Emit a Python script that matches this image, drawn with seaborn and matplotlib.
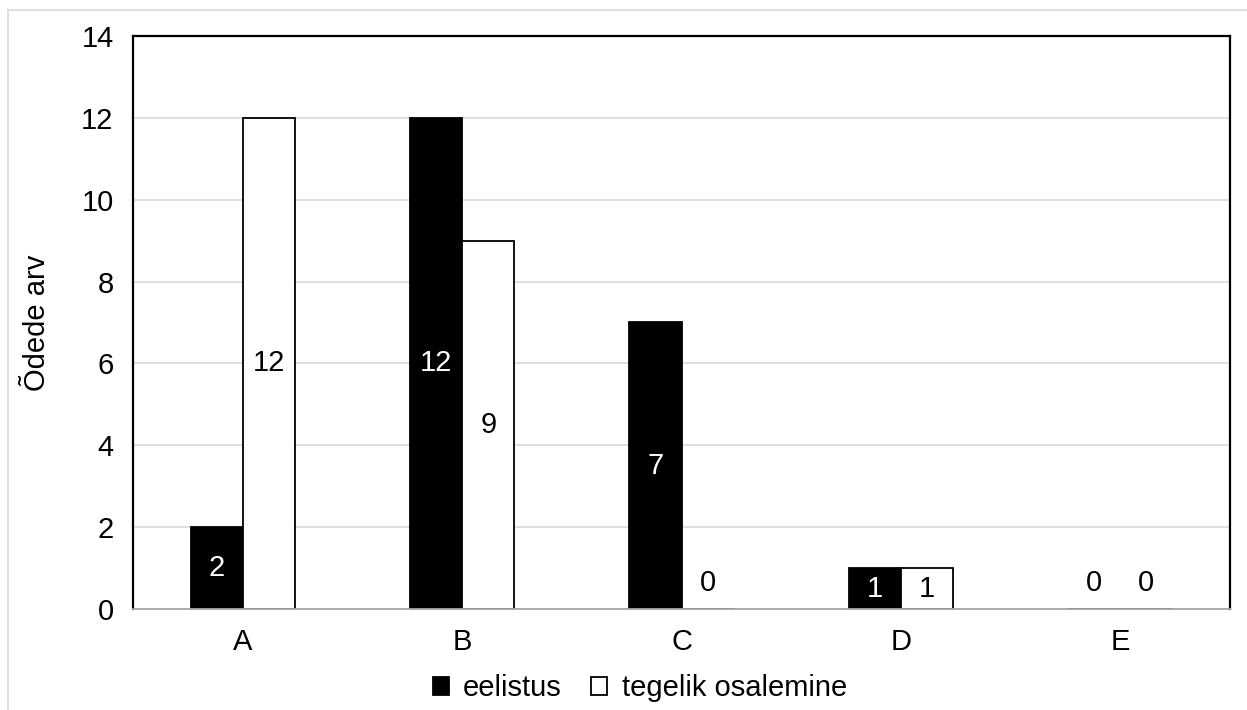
import pandas as pd
import matplotlib.pyplot as plt
import seaborn as sns
from matplotlib.lines import Line2D

# Data
categories = ['A', 'B', 'C', 'D', 'E']
eelistus = [2, 12, 7, 1, 0]
tegelik = [12, 9, 0, 1, 0]
series_names = ['eelistus', 'tegelik osalemine']

df = pd.DataFrame({
    'kategooria': categories * 2,
    'arv': eelistus + tegelik,
    'seeria': [series_names[0]] * 5 + [series_names[1]] * 5,
})

sns.set_style('white')
plt.rcParams['font.family'] = ['Liberation Sans', 'DejaVu Sans']
plt.rcParams['text.color'] = 'black'
FS = 21

fig = plt.figure(figsize=(12.47, 7.10), dpi=100)
ax = fig.add_axes([0.1067, 0.1423, 0.8797, 0.807])

sns.barplot(data=df, x='kategooria', y='arv', hue='seeria',
            palette=['black', 'white'], edgecolor='black', linewidth=1.3,
            width=0.475, gap=0, ax=ax)

ax.set_ylim(0, 14)
ax.set_yticks(range(0, 15, 2))
ax.yaxis.grid(True, color='#d9d9d9', linewidth=1.2)
ax.set_axisbelow(True)
ax.tick_params(axis='both', length=0, labelsize=FS, labelcolor='black')
ax.tick_params(axis='x', pad=14)
ax.tick_params(axis='y', pad=14)
ax.set_xlabel('')
ax.set_ylabel('Õdede arv', fontsize=FS, color='black', labelpad=22)

for side in ['left', 'top', 'right']:
    ax.spines[side].set_color('black')
    ax.spines[side].set_linewidth(1.6)
ax.spines['bottom'].set_color('#a6a6a6')
ax.spines['bottom'].set_linewidth(1.3)

# value labels
text_colors = ['white', 'black']
for container, col in zip(ax.containers, text_colors):
    for patch in container:
        h = patch.get_height()
        xc = patch.get_x() + patch.get_width() / 2
        if h > 0:
            ax.annotate(f'{int(h)}', (xc, h / 2), ha='center', va='center',
                        fontsize=FS, color=col)
        else:
            ax.annotate(f'{int(h)}', (xc, 0), xytext=(0, 19),
                        textcoords='offset points', ha='center', va='center',
                        fontsize=FS, color='black')

handles, labels = ax.get_legend_handles_labels()
ax.get_legend().remove()
fig.legend(handles, labels, loc='lower center', bbox_to_anchor=(0.513, -0.026),
           ncol=2, frameon=False, fontsize=FS, handlelength=0.55,
           handleheight=0.55, handletextpad=0.5, columnspacing=1.0)

# outer chart border
fig.add_artist(Line2D([8 / 1247, 8 / 1247], [0, 1 - 10 / 710], color='#d9d9d9', lw=1.2))
fig.add_artist(Line2D([8 / 1247, 1], [1 - 10 / 710, 1 - 10 / 710], color='#d9d9d9', lw=1.2))

fig.savefig('out.png', dpi=100)
